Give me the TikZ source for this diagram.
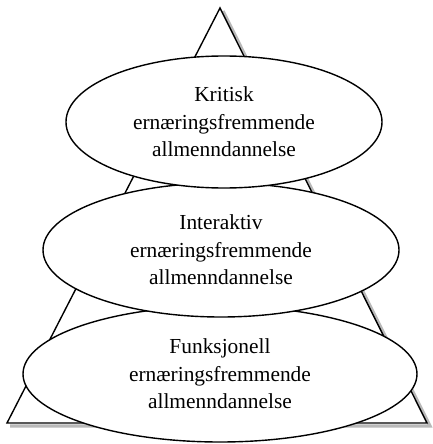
\documentclass[tikz,border=0pt]{standalone}
\usepackage{fontspec}
\setmainfont{Liberation Serif}
\usetikzlibrary{shapes.geometric}
\tikzset{
  level/.style={ellipse, draw, fill=white, line width=0.7pt, inner sep=0pt,
    align=center, font=\fontsize{10.7}{13.8}\selectfont},
}
\begin{document}
\begin{tikzpicture}[x=0.5pt, y=-0.5pt]
        \useasboundingbox (0,0) rectangle (433,444);
        % pyramid with its shadow
        \coordinate (apex) at (220,8);
        \coordinate (left) at (7,423);
        \coordinate (right) at (427,423);
        \draw[gray!55, line width=1.6pt] ([shift={(3,3)}]apex) -- ([shift={(3,3)}]right) -- ([shift={(3,3)}]left);
        \draw[fill=white, line width=0.7pt, line join=miter] (apex) -- (right) -- (left) -- cycle;
        % levels, bottom first
        \node[level, minimum width=197pt, minimum height=68pt] at (220,374) (funksjonell) {Funksjonell\\ernæringsfremmende\\allmenndannelse};
        \node[level, minimum width=178pt, minimum height=67pt] at (221,250) (interaktiv) {Interaktiv\\ernæringsfremmende\\allmenndannelse};
        \node[level, minimum width=158pt, minimum height=66pt] at (224,122) (kritisk) {Kritisk\\ernæringsfremmende\\allmenndannelse};
      \end{tikzpicture}
\end{document}
